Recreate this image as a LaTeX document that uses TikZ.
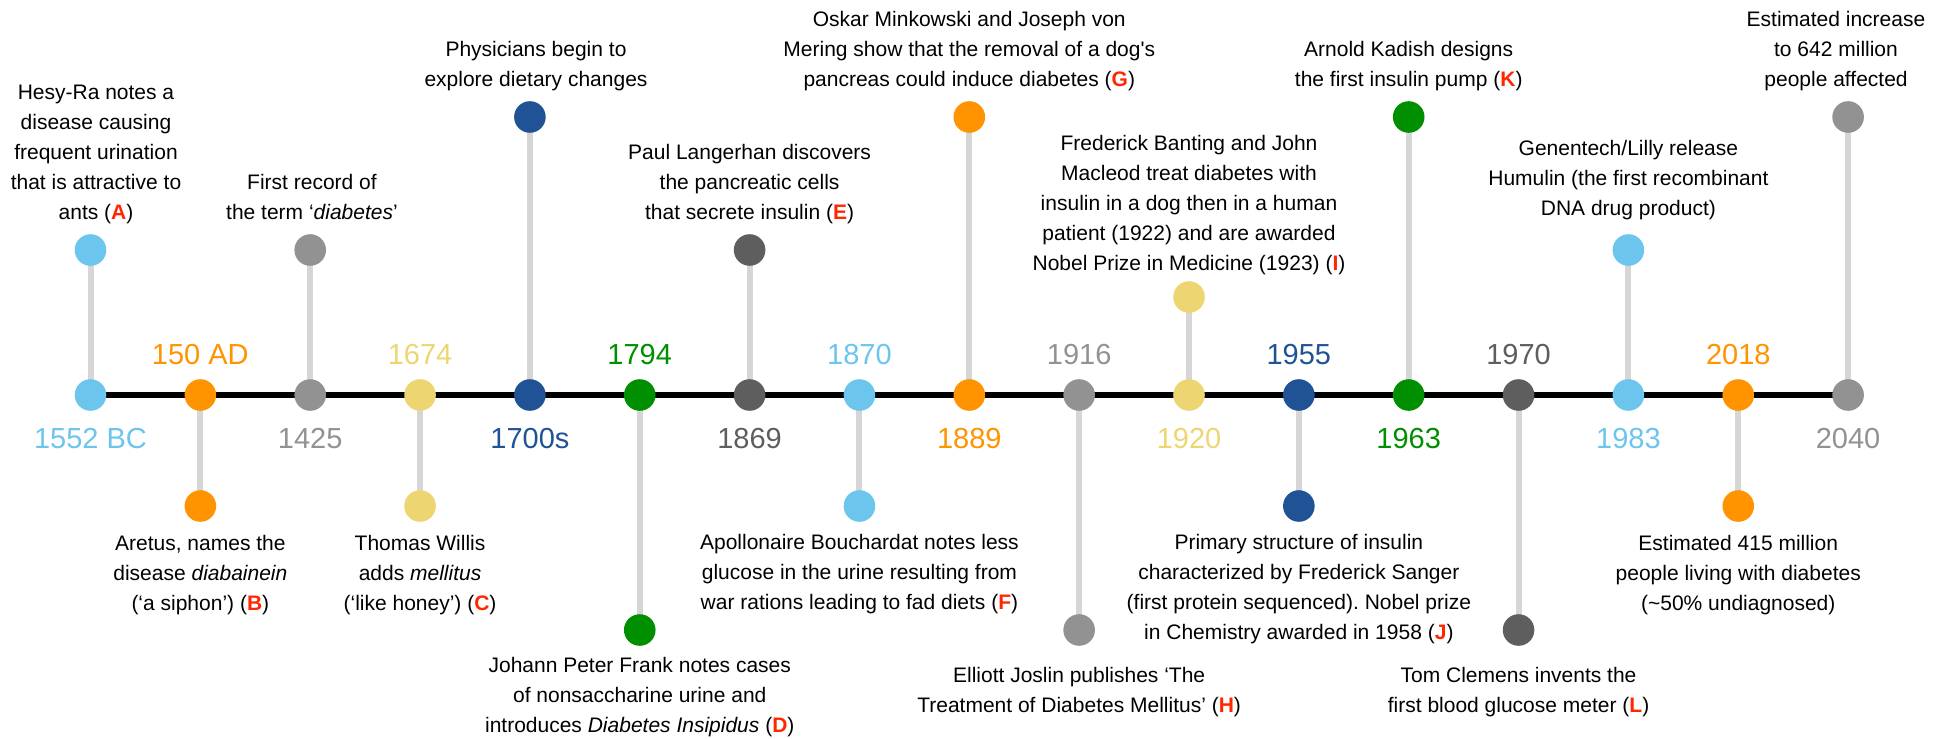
\documentclass[tikz,border=0pt]{standalone}
\usepackage{fontspec}
\setmainfont{Liberation Sans}
\usetikzlibrary{backgrounds}
\definecolor{cLB}{HTML}{6BC5EC}
\definecolor{cOr}{HTML}{FF9300}
\definecolor{cGr}{HTML}{929292}
\definecolor{cYe}{HTML}{EDD672}
\definecolor{cDB}{HTML}{1F5395}
\definecolor{cGn}{HTML}{008F00}
\definecolor{cDG}{HTML}{5E5E5E}
\definecolor{cRed}{HTML}{FF2600}
\definecolor{cStem}{HTML}{D6D6D6}
\newcommand\redl[1]{{\color{cRed}\bfseries #1}}
\frenchspacing
\begin{document}
\begin{tikzpicture}[x=1pt,y=-1pt,
  dot/.style={circle, fill=#1, minimum size=31.6pt, inner sep=0pt},
  stem/.style={line width=6pt, draw=cStem},
  axisline/.style={line width=5.5pt, draw=black},
  evtext/.style={align=center, font=\fontsize{21}{30}\selectfont\frenchspacing, inner sep=0pt, anchor=base},
  yr/.style={font=\fontsize{29}{34}\selectfont, text=#1, anchor=base, inner sep=0pt}]
\useasboundingbox (0,0) rectangle (1944,739);
\foreach \i/\c/\ey in {0/cLB/250, 1/cOr/506, 2/cGr/250, 3/cYe/506, 4/cDB/117, 5/cGn/630, 6/cDG/250, 7/cLB/506, 8/cOr/117, 9/cGr/630, 10/cYe/297, 11/cDB/506, 12/cGn/117, 13/cDG/630, 14/cLB/250, 15/cOr/506, 16/cGr/117} {
  \node[dot=\c] (a\i) at ({90.5+109.85*\i}, 395) {};
  \node[dot=\c] (e\i) at ({90.5+109.85*\i}, \ey) {};
}
\begin{scope}[on background layer]
  \foreach \i in {0,...,16} { \draw[stem] (a\i.center) -- (e\i.center); }
  \draw[axisline] (a0.center) -- (a16.center);
\end{scope}
\foreach \i/\yt/\c/\by in {0/1552 BC/cLB/448, 1/150 AD/cOr/364, 2/1425/cGr/448, 3/1674/cYe/364, 4/1700s/cDB/448, 5/1794/cGn/364, 6/1869/cDG/448, 7/1870/cLB/364, 8/1889/cOr/448, 9/1916/cGr/364, 10/1920/cYe/448, 11/1955/cDB/364, 12/1963/cGn/448, 13/1970/cDG/364, 14/1983/cLB/448, 15/2018/cOr/364, 16/2040/cGr/448} {
  \node[yr=\c] (y\i) at ({90.5+109.85*\i}, \by) {\yt};
}
% upper texts (anchor = baseline of last line)
\node[evtext] (t0) at (96, 219) {Hesy-Ra notes a\\disease causing\\frequent urination\\that is attractive to\\ants (\redl{A})};
\node[evtext] (t2) at (312, 219) {First record of\\the term ‘\textit{diabetes}’};
\node[evtext] (t4) at (536, 86) {Physicians begin to\\explore dietary changes};
\node[evtext] (t6) at (749.6, 219) {Paul Langerhan discovers\\the pancreatic cells\\that secrete insulin (\redl{E})};
\node[evtext] (t8) at (969.3, 86) {Oskar Minkowski and Joseph von\\Mering show that the removal of a dog\textquotesingle s\\pancreas could induce diabetes (\redl{G})};
\node[evtext] (t10) at (1189, 270) {Frederick Banting and John\\Macleod treat diabetes with\\insulin in a dog then in a human\\patient (1922) and are awarded\\Nobel Prize in Medicine (1923) (\redl{I})};
\node[evtext] (t12) at (1408.7, 86) {Arnold Kadish designs\\the first insulin pump (\redl{K})};
\node[evtext] (t14) at (1628.4, 215) {Genentech/Lilly release\\Humulin (the first recombinant\\DNA drug product)};
\node[evtext] (t16) at (1836, 86) {Estimated increase\\to 642 million\\people affected};
% lower texts
\node[evtext] (t1) at (200.35, 610) {Aretus, names the\\disease \textit{diabainein}\\(‘a siphon’) (\redl{B})};
\node[evtext] (t3) at (420.05, 610) {Thomas Willis\\adds \textit{mellitus}\\(‘like honey’) (\redl{C})};
\node[evtext] (t5) at (639.75, 732) {Johann Peter Frank notes cases\\of nonsaccharine urine and\\introduces \textit{Diabetes Insipidus} (\redl{D})};
\node[evtext] (t7) at (859.45, 609) {Apollonaire Bouchardat notes less\\glucose in the urine resulting from\\war rations leading to fad diets (\redl{F})};
\node[evtext] (t9) at (1079.15, 712) {Elliott Joslin publishes ‘The\\Treatment of Diabetes Mellitus’ (\redl{H})};
\node[evtext] (t11) at (1298.85, 639) {Primary structure of insulin\\characterized by Frederick Sanger\\(first protein sequenced). Nobel prize\\in Chemistry awarded in 1958 (\redl{J})};
\node[evtext] (t13) at (1518.55, 712) {Tom Clemens invents the\\first blood glucose meter (\redl{L})};
\node[evtext] (t15) at (1738.25, 610) {Estimated 415 million\\people living with diabetes\\(\textasciitilde 50\% undiagnosed)};
\end{tikzpicture}
\end{document}
